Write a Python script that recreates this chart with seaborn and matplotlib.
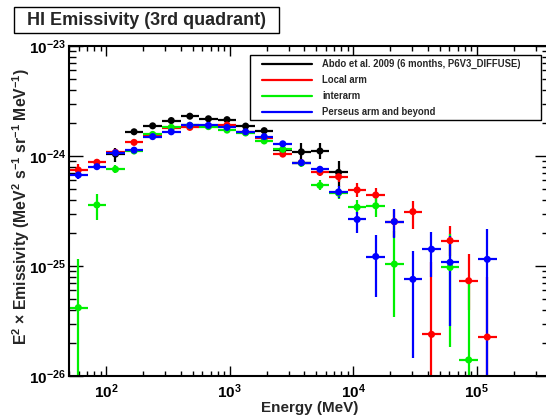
import numpy as np
import pandas as pd
import matplotlib
matplotlib.use("Agg")
import matplotlib.pyplot as plt
import seaborn as sns
from matplotlib.lines import Line2D
from matplotlib.patches import Rectangle
from matplotlib.ticker import FixedLocator, FuncFormatter, LogLocator, NullFormatter

nan = np.nan

# Energy bins: edges at 50 MeV * 2^(k/2), points at the geometric bin centres
bin_edges = 50.0 * 2.0 ** (np.arange(24) / 2.0)
energy = np.sqrt(bin_edges[:-1] * bin_edges[1:])

series_names = ["Abdo et al. 2009 (6 months, P6V3_DIFFUSE)", "Local arm",
                "interarm", "Perseus arm and beyond"]
series_colors = ["#000000", "#ff0000", "#00f000", "#0000ff"]

# E^2 x emissivity (MeV^2 s^-1 sr^-1 MeV^-1); errors in decades (up / down)
abdo_val = [nan, nan, 1.04e-24, 1.66e-24, 1.88e-24, 2.10e-24, 2.30e-24, 2.18e-24,
            2.14e-24, 1.87e-24, 1.70e-24, 1.13e-24, 1.09e-24, 1.11e-24, 7.1e-25,
            nan, nan, nan, nan, nan, nan, nan, nan]
abdo_up = [nan, nan, 0.06, 0.015, 0.015, 0.015, 0.015, 0.015, 0.015, 0.02, 0.02,
           0.03, 0.08, 0.07, 0.10, nan, nan, nan, nan, nan, nan, nan, nan]
abdo_dn = [nan, nan, 0.07, 0.015, 0.015, 0.015, 0.015, 0.015, 0.015, 0.02, 0.02,
           0.03, 0.08, 0.07, 0.13, nan, nan, nan, nan, nan, nan, nan, nan]

local_val = [7.46e-25, 8.77e-25, 1.08e-24, 1.33e-24, 1.55e-24, 1.80e-24, 1.82e-24,
             1.88e-24, 1.91e-24, 1.64e-24, 1.45e-24, 1.04e-24, 8.7e-25, 7.1e-25,
             6.48e-25, 4.91e-25, 4.42e-25, 2.53e-25, 3.12e-25, 2.39e-26, 1.70e-25,
             7.35e-26, 2.26e-26]
local_up = [0.055, 0.03, 0.02, 0.02, 0.015, 0.015, 0.015, 0.015, 0.015, 0.02, 0.02,
            0.025, 0.03, 0.03, 0.05, 0.065, 0.065, 0.11, 0.10, 0.66, 0.134, 0.243, 0.55]
local_dn = [0.055, 0.03, 0.02, 0.02, 0.015, 0.015, 0.015, 0.015, 0.015, 0.02, 0.02,
            0.025, 0.03, 0.03, 0.05, 0.065, 0.065, 0.14, 0.16, 3.0, 0.14, 0.27, 3.0]

interarm_val = [4.18e-26, 3.59e-25, 7.57e-25, 1.11e-24, 1.57e-24, 1.82e-24, 1.90e-24,
                1.85e-24, 1.72e-24, 1.62e-24, 1.37e-24, 1.15e-24, 8.6e-25, 5.4e-25,
                4.6e-25, 3.42e-25, 3.53e-25, 1.04e-25, nan, nan, 9.7e-26, 1.40e-26, nan]
interarm_up = [0.44, 0.097, 0.035, 0.02, 0.015, 0.015, 0.015, 0.015, 0.015, 0.02, 0.02,
               0.025, 0.03, 0.045, 0.05, 0.065, 0.08, 0.30, nan, nan, 0.30, 0.72, nan]
interarm_dn = [3.0, 0.136, 0.035, 0.02, 0.015, 0.015, 0.015, 0.015, 0.015, 0.02, 0.02,
               0.025, 0.03, 0.045, 0.05, 0.065, 0.10, 0.48, nan, nan, 0.72, 3.0, nan]

perseus_val = [6.72e-25, 8.0e-25, 1.07e-24, 1.13e-24, 1.50e-24, 1.66e-24, 1.90e-24,
               1.90e-24, 1.82e-24, 1.66e-24, 1.50e-24, 1.29e-24, 8.7e-25, 7.57e-25,
               4.71e-25, 2.65e-25, 1.22e-25, 2.53e-25, 7.57e-26, 1.42e-25, 1.08e-25,
               nan, 1.15e-25]
perseus_up = [0.04, 0.025, 0.02, 0.02, 0.015, 0.015, 0.015, 0.015, 0.015, 0.02, 0.02,
              0.025, 0.03, 0.03, 0.055, 0.07, 0.197, 0.115, 0.257, 0.155, 0.239, nan, 0.275]
perseus_dn = [0.04, 0.025, 0.02, 0.02, 0.015, 0.015, 0.015, 0.015, 0.015, 0.02, 0.02,
              0.025, 0.03, 0.03, 0.055, 0.125, 0.364, 0.148, 0.718, 0.249, 0.579, nan, 3.0]

series_vals = [abdo_val, local_val, interarm_val, perseus_val]
series_up = [abdo_up, local_up, interarm_up, perseus_up]
series_dn = [abdo_dn, local_dn, interarm_dn, perseus_dn]

# ---- style ----
sns.set_theme(style="ticks")
plt.rcParams["font.family"] = ["Liberation Sans", "DejaVu Sans"]
plt.rcParams["font.weight"] = "bold"
plt.rcParams["mathtext.fontset"] = "custom"
plt.rcParams["mathtext.rm"] = "Liberation Sans:bold"
plt.rcParams["mathtext.bf"] = "Liberation Sans:bold"
plt.rcParams["mathtext.it"] = "Liberation Sans:bold:italic"
plt.rcParams["mathtext.default"] = "rm"

W, H = 546, 417
fig = plt.figure(figsize=(W / 100, H / 100), dpi=100)
fig.patch.set_facecolor("white")
ax = fig.add_axes([69 / W, 41 / H, 480 / W, 330 / H])
ax.set_facecolor("white")
ax.set_xscale("log")
ax.set_yscale("log")


def fx(px):
    return px / W


def fy(py):
    return (H - py) / H


# long table for the markers
rows = []
for name, vals in zip(series_names, series_vals):
    for e, v in zip(energy, vals):
        if not np.isnan(v):
            rows.append({"energy": e, "value": v, "series": name})
df = pd.DataFrame(rows)

lo_edge = bin_edges[:-1]
hi_edge = bin_edges[1:]
for name, color, vals, up, dn in zip(series_names, series_colors, series_vals,
                                     series_up, series_dn):
    v = np.asarray(vals, dtype=float)
    u = np.asarray(up, dtype=float)
    d = np.asarray(dn, dtype=float)
    m = ~np.isnan(v)
    x = energy[m]
    xerr = [x - lo_edge[m], hi_edge[m] - x]
    yerr = [v[m] - v[m] * 10 ** (-d[m]), v[m] * 10 ** u[m] - v[m]]
    ax.errorbar(x, v[m], xerr=xerr, yerr=yerr, fmt="none", ecolor=color,
                elinewidth=1.6, capsize=0, zorder=2)

sns.scatterplot(data=df, x="energy", y="value", hue="series",
                palette=dict(zip(series_names, series_colors)),
                s=26, edgecolor="none", linewidth=0, legend=False, ax=ax, zorder=3)

ax.set_xlim(50, 3.85e5)
ax.set_ylim(1e-26, 1e-23)

# ticks
ax.xaxis.set_major_locator(FixedLocator([1e2, 1e3, 1e4, 1e5]))
ax.xaxis.set_minor_locator(LogLocator(base=10, subs=np.arange(2, 10), numticks=20))
ax.yaxis.set_major_locator(FixedLocator([1e-26, 1e-25, 1e-24, 1e-23]))
ax.yaxis.set_minor_locator(LogLocator(base=10, subs=np.arange(2, 10), numticks=20))
fmt = FuncFormatter(lambda val, pos: r"$\mathbf{10^{%d}}$" % int(round(np.log10(val))))
ax.xaxis.set_major_formatter(fmt)
ax.yaxis.set_major_formatter(fmt)
ax.xaxis.set_minor_formatter(NullFormatter())
ax.yaxis.set_minor_formatter(NullFormatter())

ax.tick_params(which="both", direction="in", top=True, right=True, colors="black",
               width=1)
ax.tick_params(axis="x", which="major", length=7, labelsize=11, pad=4.5)
ax.tick_params(axis="x", which="minor", length=3.5)
ax.tick_params(axis="y", which="major", length=10, labelsize=11, pad=2)
ax.tick_params(axis="y", which="minor", length=5)
for sp in ax.spines.values():
    sp.set_color("black")
    sp.set_linewidth(1.5)

ax.set_xlabel("Energy (MeV)", fontsize=11, fontweight="bold")
ax.set_ylabel(r"E$^{2}$ $\times$ Emissivity (MeV$^{2}$ s$^{-1}$ sr$^{-1}$ MeV$^{-1}$)",
              fontsize=11.3, fontweight="bold")
ax.xaxis.set_label_coords((310 - 69) / 480, (376 - 408) / 330)
ax.xaxis.label.set_va("center")
ax.yaxis.set_label_coords((21 - 69) / 480, (376 - 206) / 330)
ax.yaxis.label.set_va("center")

# legend box drawn in figure pixels
fig.add_artist(Rectangle((fx(250), fy(120)), (541 - 250) / W, (120 - 55) / H,
                         transform=fig.transFigure, facecolor="white",
                         edgecolor="black", linewidth=1.0, zorder=5))
for i, (name, color) in enumerate(zip(series_names, series_colors)):
    row_y = 63.5 + 16.1 * i
    fig.add_artist(Line2D([fx(261.7), fx(311.7)], [fy(row_y), fy(row_y)],
                          transform=fig.transFigure, color=color, lw=1.6, zorder=6))
    fig.text(fx(322), fy(row_y), name, fontsize=6.85, fontweight="bold",
             ha="left", va="center", zorder=6)

# title box
fig.add_artist(Rectangle((fx(14.3), fy(33.3)), 265 / W, 26 / H,
                         transform=fig.transFigure, facecolor="white",
                         edgecolor="black", linewidth=1.0, zorder=5))
fig.text(fx(146.8), fy(20.5), "HI Emissivity (3rd quadrant)", fontsize=13,
         fontweight="bold", ha="center", va="center", zorder=6)

fig.savefig("out.png", dpi=100)
